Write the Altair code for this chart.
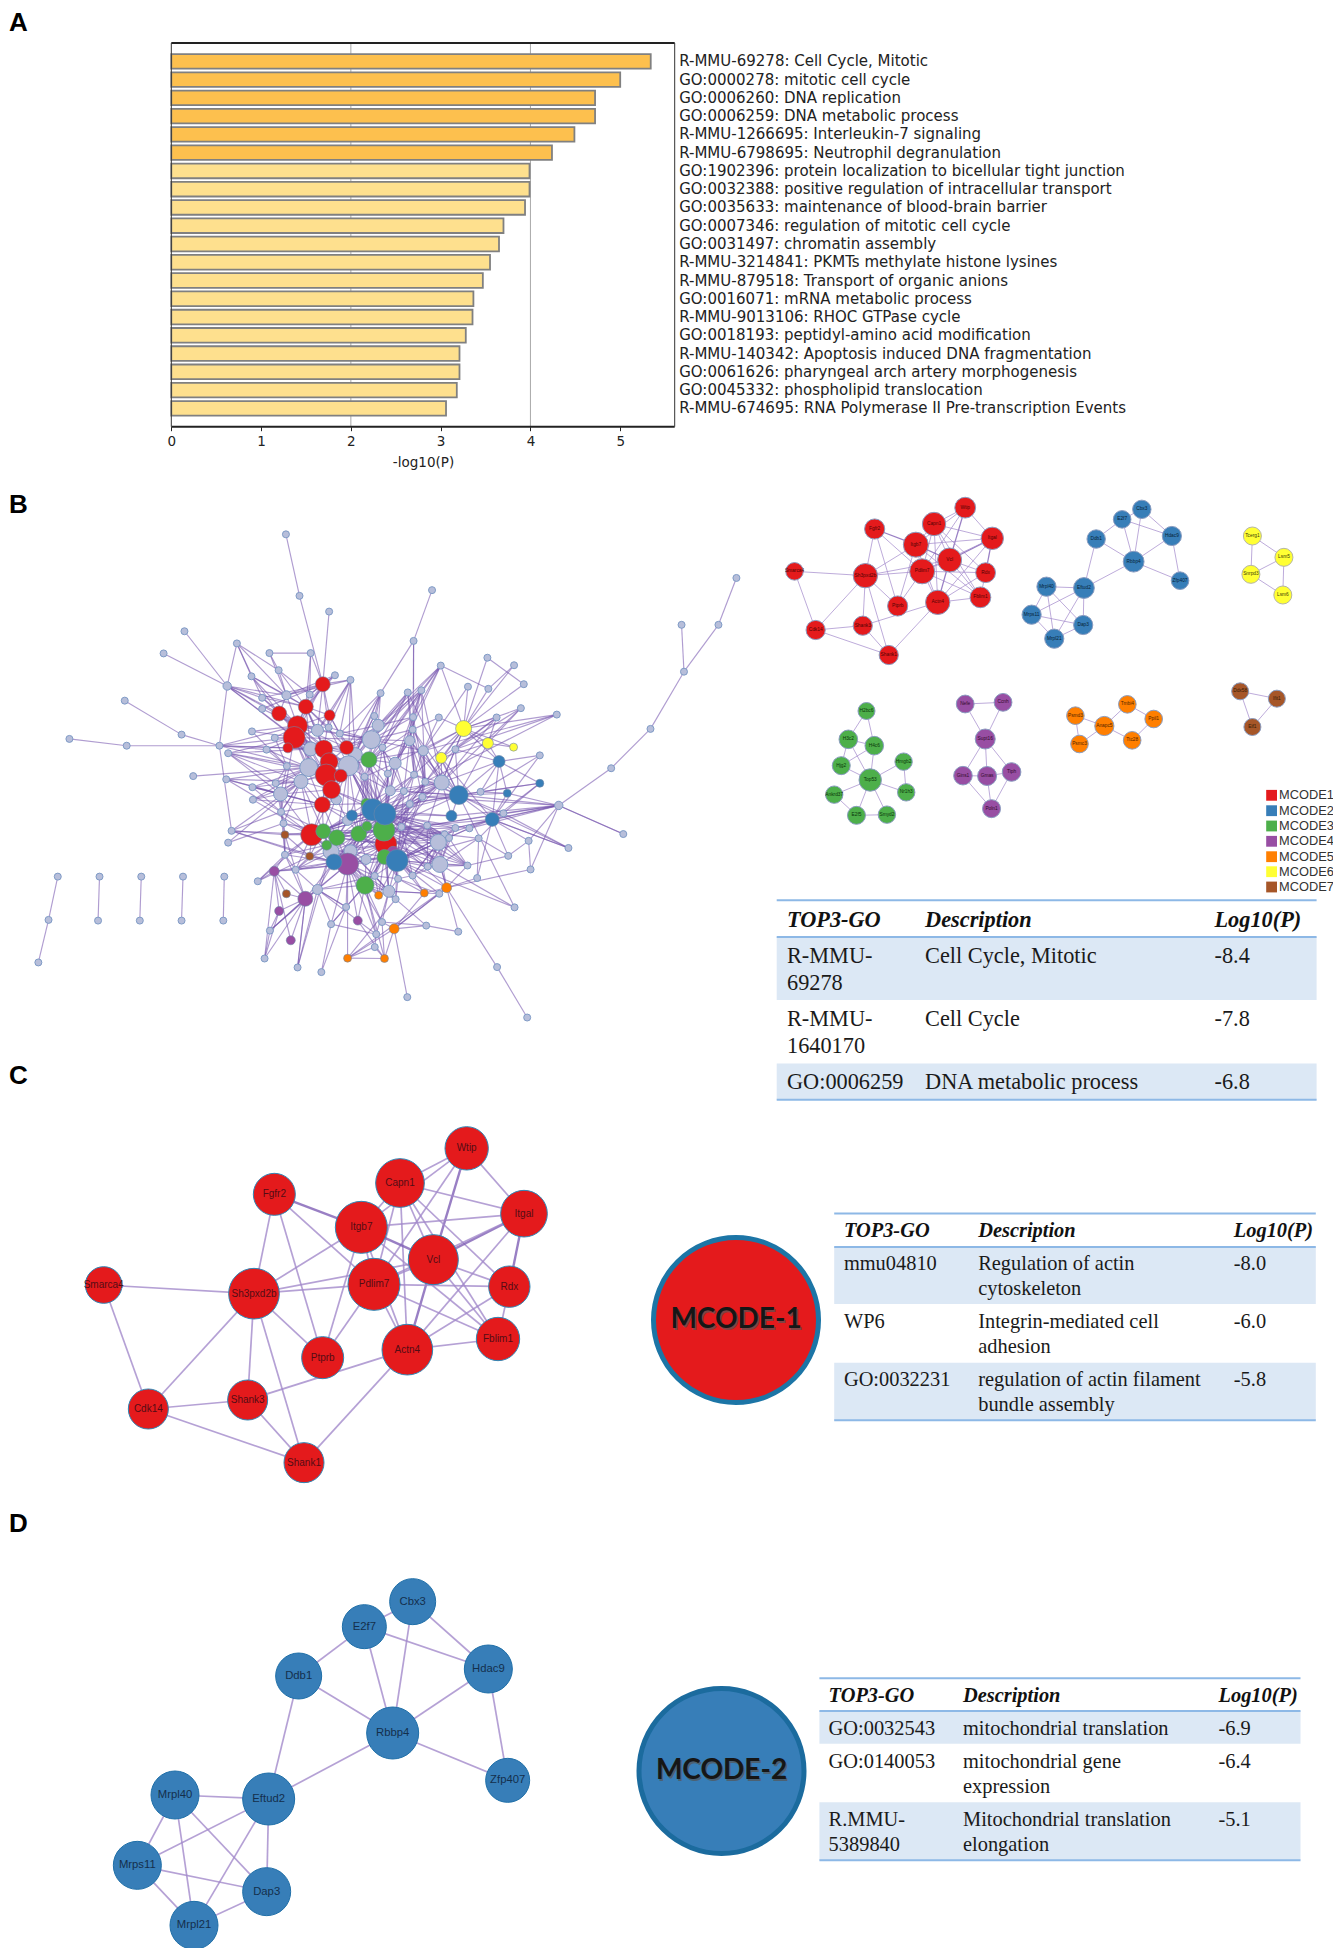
import altair as alt
import pandas as pd

W, H = 1325, 1940
SX = alt.Scale(domain=[8, 8 + W], range=[0, W], nice=False, zero=False)
SY = alt.Scale(domain=[8, 8 + H], range=[0, H], nice=False, zero=False)

# ---------- Panel A ----------
terms = ["R-MMU-69278: Cell Cycle, Mitotic", "GO:0000278: mitotic cell cycle", "GO:0006260: DNA replication",
         "GO:0006259: DNA metabolic process", "R-MMU-1266695: Interleukin-7 signaling",
         "R-MMU-6798695: Neutrophil degranulation", "GO:1902396: protein localization to bicellular tight junction",
         "GO:0032388: positive regulation of intracellular transport", "GO:0035633: maintenance of blood-brain barrier",
         "GO:0007346: regulation of mitotic cell cycle", "GO:0031497: chromatin assembly",
         "R-MMU-3214841: PKMTs methylate histone lysines", "R-MMU-879518: Transport of organic anions",
         "GO:0016071: mRNA metabolic process", "R-MMU-9013106: RHOC GTPase cycle",
         "GO:0018193: peptidyl-amino acid modification", "R-MMU-140342: Apoptosis induced DNA fragmentation",
         "GO:0061626: pharyngeal arch artery morphogenesis", "GO:0045332: phospholipid translocation",
         "R-MMU-674695: RNA Polymerase II Pre-transcription Events"]
logp = [5.34, 5.0, 4.72, 4.72, 4.49, 4.24, 3.99, 3.99, 3.94, 3.70, 3.65, 3.55, 3.47, 3.365, 3.355, 3.28, 3.21, 3.21, 3.18, 3.06]
bar_fill = ["#FDC04E"] * 6 + ["#FEE08E"] * 14
AL, AR, AT, AB = 171.3, 674.7, 43.0, 426.7
AXS = alt.Scale(domain=[0, 5.607], range=[AL - 8, AR - 8], nice=False, zero=False)
AYS = alt.Scale(domain=terms, range=[AT - 8, AB - 8], paddingInner=0.2, paddingOuter=0.605)
dfA = pd.DataFrame({"term": terms, "v": logp, "c": bar_fill})
xaxisA = alt.Axis(orient="bottom", offset=-(H - (AB - 8)), values=[0, 1, 2, 3, 4, 5], format="d", labelFlush=False,
                  grid=False, domain=False, tickColor="#222", tickSize=4, labelFont="DejaVu Sans", labelFontSize=13.5,
                  labelColor="#222", labelPadding=4, title="-log10(P)", titleFont="DejaVu Sans", titleFontSize=13.5,
                  titleFontWeight="normal", titleColor="#222", titlePadding=7)
gridA = alt.Chart(pd.DataFrame({"v": [2, 4]})).mark_rule(color="#a8a8a8", strokeWidth=1).encode(
    x=alt.X("v:Q", scale=AXS, axis=xaxisA), y=alt.value(AT - 8), y2=alt.value(AB - 8))
barsA = alt.Chart(dfA).mark_bar(stroke="#808080", strokeWidth=1.8).encode(
    x=alt.X("v:Q", scale=AXS, axis=xaxisA),
    y=alt.Y("term:N", sort=None, scale=AYS, axis=alt.Axis(orient="right", offset=-(W - (AR - 8)), title=None, domain=False,
            ticks=False, grid=False, labelFont="DejaVu Sans", labelFontSize=15, labelColor="#222", labelPadding=4, labelLimit=1000)),
    fill=alt.Fill("c:N", scale=None))
panelA = alt.layer(gridA, barsA)

# ---------- Colours ----------
RED, BLUE, GREEN, PURP, ORNG, YELL, BROW = "#E41A1C", "#377EB8", "#4DAF4A", "#984EA3", "#FF7F00", "#FFFF33", "#A65628"
GRAY = "#B7BEDA"

# ---------- Shared gene networks ----------
m1_names = ["Wtip", "Capn1", "Fgfr2", "Itgal", "Itgb7", "Vcl", "Pdlim7", "Sh3pxd2b", "Smarca4", "Rdx", "Fblim1", "Actn4", "Ptprb", "Shank3", "Cdk14", "Shank1"]
m1_big_x = [1280, 1080, 703, 1452, 964, 1180, 1002, 642, 191, 1408, 1374, 1102, 848, 623, 325, 792]
m1_big_y = [115, 219, 253, 311, 352, 449, 523, 551, 525, 530, 687, 719, 743, 870, 897, 1058]
m1_big_r = [65, 73, 63, 70, 78, 75, 78, 76, 55, 62, 65, 76, 63, 60, 60, 60]
m1_small_x = [553, 469, 309, 626, 420, 511, 437, 284, 93, 608, 594, 479, 371, 277, 150, 347]
m1_small_y = [83, 132, 147, 175, 194, 240, 274, 287, 274, 278, 352, 367, 378, 437, 450, 525]
m1_edges = ["Wtip-Capn1", "Wtip-Itgb7", "Wtip-Vcl*", "Wtip-Itgal", "Wtip-Pdlim7", "Capn1-Itgal", "Capn1-Itgb7", "Capn1-Vcl", "Capn1-Pdlim7",
            "Capn1-Actn4", "Capn1-Rdx", "Capn1-Fblim1", "Fgfr2-Itgb7*", "Fgfr2-Sh3pxd2b", "Fgfr2-Ptprb", "Fgfr2-Pdlim7", "Itgal-Itgb7", "Itgal-Vcl*",
            "Itgal-Rdx*", "Itgal-Actn4", "Itgal-Pdlim7", "Itgb7-Vcl*", "Itgb7-Pdlim7", "Itgb7-Sh3pxd2b", "Itgb7-Ptprb", "Itgb7-Actn4", "Itgb7-Fblim1",
            "Vcl-Pdlim7", "Vcl-Sh3pxd2b", "Vcl-Rdx", "Vcl-Fblim1", "Vcl-Actn4*", "Pdlim7-Sh3pxd2b", "Pdlim7-Rdx", "Pdlim7-Fblim1", "Pdlim7-Actn4",
            "Pdlim7-Ptprb", "Sh3pxd2b-Smarca4", "Sh3pxd2b-Ptprb", "Sh3pxd2b-Shank3", "Sh3pxd2b-Shank1", "Sh3pxd2b-Cdk14", "Smarca4-Cdk14",
            "Rdx-Fblim1", "Rdx-Actn4", "Fblim1-Actn4", "Actn4-Shank3", "Actn4-Shank1", "Shank3-Cdk14", "Shank3-Shank1", "Cdk14-Shank1"]

m2_names = ["Cbx3", "E2f7", "Ddb1", "Hdac9", "Rbbp4", "Zfp407", "Eftud2", "Mrpl40", "Mrps11", "Dap3", "Mrpl21"]
m2_big_x = [998, 853, 656, 1225, 938, 1283, 566, 285, 172, 560, 342]
m2_big_y = [125, 200, 348, 327, 519, 661, 717, 705, 916, 995, 1096]
m2_big_r = [69, 66, 69, 72, 78, 66, 78, 72, 72, 72, 72]
m2_small_x = [1029, 976, 906, 1110, 1007, 1132, 873, 772, 732, 871, 793]
m2_small_y = [88, 118, 177, 168, 245, 302, 324, 320, 404, 435, 476]
m2_edges = ["Cbx3-E2f7", "Cbx3-Hdac9", "Cbx3-Rbbp4", "E2f7-Ddb1", "E2f7-Hdac9", "E2f7-Rbbp4", "Ddb1-Rbbp4", "Ddb1-Eftud2", "Hdac9-Rbbp4",
            "Hdac9-Zfp407", "Rbbp4-Zfp407", "Rbbp4-Eftud2", "Eftud2-Mrpl40", "Eftud2-Mrps11", "Eftud2-Mrpl21", "Eftud2-Dap3", "Mrpl40-Mrps11",
            "Mrpl40-Mrpl21", "Mrpl40-Dap3", "Mrps11-Mrpl21", "Mrps11-Dap3", "Mrpl21-Dap3"]

m3_names = ["H2bc6", "H3c2", "H4c6", "Hjg2", "Hmgb2", "Top53", "Nr1h3", "Ankrd37", "E2f5", "Smyd2"]
m3_x = [287, 238, 308, 219, 387, 297, 394, 200, 260, 342]
m3_y = [693, 778, 797, 857, 845, 900, 937, 944, 1006, 1004]
m3_r = [8.5, 9.3, 9.3, 9, 8.7, 11.2, 8.7, 8.7, 9, 8.7]
m3_edges = ["H2bc6-H3c2", "H2bc6-H4c6", "H3c2-H4c6", "H3c2-Hjg2", "H3c2-Top53", "H4c6-Hjg2", "H4c6-Top53", "Hjg2-Top53", "Hmgb2-Top53",
            "Hmgb2-Nr1h3", "Nr1h3-Top53", "Top53-Ankrd37", "Top53-E2f5", "Top53-Smyd2", "Ankrd37-E2f5", "E2f5-Smyd2"]

m4_names = ["Nefe", "Ccnh", "Supt16", "Gins1", "Gmas", "Tiph", "Poln1"]
m4_x = [553, 655, 607, 547, 612, 678, 624]
m4_y = [672, 667, 777, 887, 888, 876, 986]
m4_r = [8.9, 8.9, 10, 9.3, 9.5, 9.3, 9]
m4_edges = ["Nefe-Ccnh", "Nefe-Supt16", "Ccnh-Supt16", "Supt16-Gins1", "Supt16-Gmas", "Supt16-Tiph", "Gins1-Gmas", "Gins1-Poln1", "Gmas-Tiph", "Gmas-Poln1", "Tiph-Poln1"]

m5_names = ["Psmd3", "Tmbi4", "Ppil1", "Anapc5", "Psmc3", "Ttc28"]
m5_x = [850, 990, 1061, 928, 861, 1003]
m5_y = [707, 673, 717, 738, 792, 781]
m5_r = [8.8, 8.8, 8.8, 9.6, 8.8, 8.8]
m5_edges = ["Psmd3-Anapc5", "Psmd3-Psmc3", "Psmc3-Anapc5", "Anapc5-Tmbi4", "Anapc5-Ttc28", "Tmbi4-Ppil1", "Ppil1-Ttc28"]

m6_names = ["Tcerg1", "Lsm5", "Snrpd3", "Lsm6"]
m6_x = [1327, 1412, 1323, 1409]
m6_y = [168, 232, 283, 345]
m6_r = [9, 9, 9, 9]
m6_edges = ["Tcerg1-Lsm5", "Tcerg1-Snrpd3", "Snrpd3-Lsm5", "Snrpd3-Lsm6", "Lsm5-Lsm6"]

m7_names = ["Ddx58", "Ifit1", "Eif1"]
m7_x = [1294, 1393, 1327]
m7_y = [634, 656, 741]
m7_r = [8.5, 8.5, 8.5]
m7_edges = ["Ddx58-Ifit1", "Ddx58-Eif1", "Ifit1-Eif1"]

# ---------- Overview network, read as (x,y) layout pairs ----------
small_gray = """589,96 617,268 678,312 380,367 337,429 488,401 555,428 640,428 852,394 890,252 1517,218 1404,349 1480,349 1409,480 1340,640 1259,750
1284,934 1171,973 1089,953 1093,1033 1060,1139 1047,995 1037,876 983,1057 1024,1306 1086,1447 944,1207 878,1190 839,1390 257,561 374,656 143,668 261,687 452,687
518,493 574,476 690,490 722,503 540,553 638,544 540,584 519,647 566,665 677,636 700,653 549,698 470,708 771,604 784,540 840,538 868,532 908,463 1004,441 1059,462
1079,515 1006,528 964,522 1073,582 1023,608 1147,600 904,608 851,607 850,642 938,697 788,692 591,744 398,772 466,781 665,775 751,774 799,765 853,768 568,792 520,803 521,838
832,814 876,788 990,816 870,830 844,850 579,872 584,904 880,910 938,917 967,918 916,935 925,945 986,946 477,925 470,958 587,992 827,914 963,1022 881,1025 850,1050 820,1059
772,1051 609,1034 531,1066 905,1101 815,1116 713,1138 682,1186 787,1180 775,1214 772,1250 556,1204 545,1282 613,1307 662,1320 119,1053 100,1174 79,1293 205,1053 202,1176
291,1053 288,1176 377,1053 374,1176 462,1053 460,1176 1112,714"""
big_gray = [(1151, 854, 4.2), (468, 520, 4.2), (590, 546, 4.5), (654, 644, 6), (640, 696, 7), (732, 712, 7), (765, 670, 9), (779, 630, 6), (844, 673, 5), (872, 701, 5),
            (814, 736, 6), (636, 748, 9), (718, 743, 10), (620, 787, 7), (578, 822, 7), (693, 838, 5), (804, 813, 5), (910, 790, 7.5), (716, 896, 5), (903, 957, 8),
            (682, 983, 8), (722, 982, 6.5), (754, 1005, 5), (906, 1019, 8), (654, 1089, 5), (801, 1094, 6)]
colored = [(RED, [(665, 515, 7.5), (630, 578, 7.5), (575, 597, 7.5), (679, 602, 5.5), (613, 631, 10), (606, 664, 11), (593, 693, 5), (667, 696, 9), (714, 692, 7), (678, 732, 9),
                  (672, 769, 11), (702, 771, 6.5), (683, 810, 9), (664, 852, 8), (642, 936, 11), (795, 962, 11)]),
           (PURP, [(810, 985, 6), (716, 1018, 11), (565, 1038, 5), (629, 1115, 7.5), (575, 1149, 4.5), (737, 1176, 4.5), (599, 1231, 4.5)]),
           (GREEN, [(760, 726, 8), (755, 849, 5.5), (666, 926, 7.5), (694, 944, 8), (739, 933, 8), (756, 912, 5), (791, 923, 11), (673, 965, 5), (792, 998, 7.5), (752, 1077, 9)]),
           (BLUE, [(945, 825, 9.5), (1028, 731, 6), (1112, 792, 4), (1045, 820, 4), (930, 883, 5.5), (1014, 893, 7), (725, 882, 5.5), (768, 866, 11), (793, 878, 11), (688, 1012, 8), (818, 1008, 11)]),
           (ORNG, [(920, 1084, 5), (874, 1099, 4), (780, 1105, 4), (812, 1199, 5), (716, 1281, 4), (792, 1282, 4)]),
           (YELL, [(955, 639, 8), (1005, 680, 5.5), (1058, 691, 4), (909, 721, 5.5)]),
           (BROW, [(587, 936, 4), (638, 996, 4), (590, 1101, 4)])]

overview_links = [
"589,96: 617,268", "617,268: 665,515", "678,312: 665,515", "380,367: 468,520", "337,429: 468,520", "488,401: 468,520 518,493 540,553 590,546 574,476",
"468,520: 452,687 540,553 590,546 630,578 613,631 575,597 606,664 640,696", "555,428: 640,428 574,476 590,546", "640,428: 638,544 630,578 665,515",
"890,252: 852,394", "852,394: 784,540 852,530 851,607", "1517,218: 1480,349", "1480,349: 1409,480", "1404,349: 1409,480", "1409,480: 1340,640", "1340,640: 1259,750", "1259,750: 1151,854",
"1151,854: 1284,934 1089,953 1093,1033 945,825 1014,893 1037,876 880,910 967,918 938,917 930,883 870,830 1045,820", "1089,953: 1093,1033", "1093,1033: 920,1084",
"257,561: 374,656", "374,656: 452,687", "143,668: 261,687", "261,687: 452,687", "452,687: 477,925 606,664 613,631 640,696 549,698 636,748 667,696",
"119,1053: 100,1174", "100,1174: 79,1293", "205,1053: 202,1176", "291,1053: 288,1176", "377,1053: 374,1176", "462,1053: 460,1176",
"665,515: 590,546 638,544 690,490 722,503 540,553 630,578 679,602 613,631 606,664 654,644 677,636 540,584",
"518,493: 590,546 613,631 575,597 630,578", "574,476: 590,546 630,578 638,544", "690,490: 638,544 630,578 590,546", "722,503: 654,644 679,602 677,636 700,653 732,712 590,546",
"613,631: 540,553 590,546 638,544 540,584 519,647 566,665 630,578 575,597 679,602 654,644 677,636 667,696 640,696 678,732 714,692 672,769 683,810 718,743 700,653 636,748",
"606,664: 519,647 566,665 549,698 470,708 640,696 654,644 667,696 678,732 672,769 636,748 683,810 664,852 718,743 765,670 579,872 693,838 732,712",
"630,578: 654,644 679,602 677,636 667,696 678,732 640,696 714,692 590,546 540,553", "575,597: 654,644 640,696 590,546 540,553 678,732",
"679,602: 654,644 667,696 714,692 700,653 677,636", "667,696: 678,732 672,769 714,692 640,696 654,644 683,810 718,743 732,712 765,670",
"678,732: 672,769 702,771 683,810 664,852 718,743 732,712 714,692 640,696 636,748", "672,769: 702,771 683,810 664,852 636,748 718,743 693,838 620,787",
"683,810: 664,852 693,838 702,771 755,849 768,866 716,896 620,787 578,822", "664,852: 642,936 666,926 694,944 716,896 693,838 579,872 578,822 620,787 755,849 725,882",
"636,748: 398,772 466,781 549,698 470,708 568,792 591,744 520,803 521,838 578,822 620,787 718,743 693,838 640,696", "470,708: 591,744 568,792 578,822 640,696 620,787", 
"466,781: 578,822 620,787 664,852 579,872", "520,803: 578,822 620,787 579,872 664,852", "521,838: 578,822 620,787 664,852 642,936", "477,925: 587,936 642,936 579,872 620,787 638,996 688,1012", "470,958: 584,904 620,787",
"578,822: 591,744 568,792 579,872 584,904 620,787 642,936", "620,787: 591,744 640,696 579,872 584,904 642,936 666,926 568,792", "591,744: 566,665 549,698 568,792 519,647",
"718,743: 779,630 771,604 784,540 732,712 760,726 751,774 755,849 768,866 793,878 716,896 642,936 666,926 694,944 739,933 791,923 620,787 664,852 795,962 765,670 722,503 677,636",
"765,670: 840,538 868,532 784,540 851,607 850,642 908,463 844,673 872,701 814,736 714,692 732,712 760,726 788,692 700,653 677,636 654,644",
"760,726: 732,712 714,692 814,736 788,692 799,765 751,774 791,923 768,866 793,878 755,849 844,673 872,701 850,642 804,813", "732,712: 714,692 700,653 751,774 755,849 768,866 793,878 804,813 771,604",
"779,630: 840,538 868,532 908,463 851,607 771,604 784,540 700,653 714,692 760,726", "784,540: 714,692 732,712 771,604 700,653", "840,538: 788,692 760,726 850,642 945,825 853,768", "868,532: 851,607 788,692 814,736 844,673 876,788 910,790", 
"908,463: 1006,528 788,692 851,607 814,736 760,726", "1004,441: 1079,515 955,639", "1059,462: 1006,528 955,639", "1079,515: 955,639", "1006,528: 955,639", "964,522: 955,639 872,701",
"955,639: 908,463 1073,582 1023,608 1147,600 1005,680 1058,691 909,721 938,697 872,701 904,608 814,736 1028,731 853,768 910,790 844,850", "1005,680: 1058,691 909,721 1023,608 1073,582 1028,731 945,825",
"1147,600: 938,697 872,701 876,788", "1023,608: 909,721 938,697 910,790", "1073,582: 938,697 910,790", "904,608: 872,701 850,642", "851,607: 844,673 876,788 853,768 804,813", "850,642: 876,788 910,790 814,736 945,825", 
"844,673: 814,736 799,765 832,814 870,830 910,790 853,768 945,825 876,788", "872,701: 910,790 876,788 853,768 870,830", "938,697: 910,790 1028,731 945,825 876,788", "909,721: 910,790 945,825 1014,893", 
"1028,731: 1112,792 945,825 1014,893 1045,820 990,816 910,790 1112,714", "1112,714: 990,816 1014,893", "1112,792: 945,825 1014,893 990,816 1037,876", "1045,820: 945,825 1014,893 990,816",
"945,825: 1014,893 930,883 990,816 876,788 910,790 870,830 844,850 793,878 768,866 791,923 853,768 1037,876 804,813 832,814 1060,1139",
"1014,893: 1047,995 983,1057 1171,973 1037,876 938,917 967,918 916,935 1089,953 880,910", "1037,876: 1171,973 986,946 880,910", "910,790: 876,788 853,768 804,813 832,814 870,830 844,850 793,878 768,866 827,914 880,910 791,923 930,883",
"814,736: 799,765 751,774 804,813 832,814 853,768 768,866 793,878", "788,692: 751,774 804,813 799,765 832,814 768,866", "853,768: 793,878 768,866 804,813 827,914 791,923", "876,788: 844,850 793,878 791,923 870,830 818,1008",
"804,813: 768,866 793,878 755,849 791,923 751,774", "832,814: 793,878 768,866 791,923 818,1008", "751,774: 768,866 793,878 755,849 791,923 739,933 716,896", "799,765: 793,878 768,866 791,923 795,962", 
"870,830: 793,878 791,923 795,962 818,1008", "844,850: 793,878 791,923 795,962 818,1008 827,914",
"768,866: 793,878 755,849 725,882 716,896 791,923 739,933 756,912 694,944 666,926 642,936 795,962 818,1008 716,1018 688,1012 722,982 792,998 880,910 903,957 906,1019 827,914 916,935 930,883",
"793,878: 791,923 756,912 739,933 725,882 716,896 694,944 666,926 642,936 795,962 818,1008 716,1018 688,1012 722,982 792,998 880,910 903,957 906,1019 827,914 925,945 938,917 967,918 930,883",
"791,923: 756,912 739,933 694,944 666,926 642,936 795,962 818,1008 716,1018 688,1012 722,982 682,983 792,998 880,910 903,957 906,1019 827,914 916,935 925,945 938,917 963,1022 881,1025 850,1050 820,1059 772,1051 752,1077 801,1094 920,1084",
"795,962: 739,933 756,912 694,944 666,926 642,936 818,1008 716,1018 688,1012 722,982 682,983 792,998 880,910 903,957 906,1019 916,935 925,945 938,917 963,1022 881,1025 850,1050 820,1059 772,1051 752,1077 801,1094 754,1005",
"818,1008: 880,910 903,957 906,1019 916,935 925,945 938,917 967,918 986,946 963,1022 881,1025 850,1050 820,1059 772,1051 905,1101 920,1084 874,1099 815,1116 801,1094 780,1105 754,1005 792,998 716,1018 739,933 827,914",
"827,914: 880,910 903,957 906,1019 916,935 925,945 850,1050 963,1022", "880,910: 903,957 906,1019 938,917 916,935 925,945 963,1022 881,1025", "903,957: 906,1019 963,1022 938,917 967,918 916,935 881,1025 850,1050", "906,1019: 963,1022 916,935 925,945 938,917 881,1025 850,1050 920,1084 986,946",
"881,1025: 850,1050 963,1022 916,935 925,945", "850,1050: 903,957 874,1099 820,1059", "963,1022: 1047,995 925,945", "986,946: 1047,995 983,1057 916,935", "983,1057: 920,1084",
"716,1018: 642,936 666,926 694,944 739,933 756,912 673,965 682,983 722,982 688,1012 754,1005 792,998 752,1077 772,1051 801,1094 815,1116 780,1105 713,1138 654,1089 629,1115 609,1034 565,1038 682,1186 716,1281 737,1176 787,1180 775,1214 638,996",
"688,1012: 642,936 666,926 694,944 673,965 682,983 609,1034 638,996 654,1089 629,1115 739,933 756,912 565,1038 587,992", "694,944: 642,936 666,926 739,933 673,965 682,983 722,982 756,912 716,896 725,882", "739,933: 666,926 756,912 716,896 725,882 722,982 682,983 754,1005 792,998 755,849",
"642,936: 666,926 673,965 587,936 584,904 579,872 638,996 587,992 609,1034 682,983 716,896", "666,926: 673,965 716,896 725,882 682,983 755,849", "673,965: 587,992 638,996 682,983 609,1034", "682,983: 609,1034 638,996 722,982 654,1089 752,1077", "722,982: 754,1005 752,1077 772,1051 792,998 801,1094",
"752,1077: 772,1051 754,1005 801,1094 792,998 815,1116 780,1105 792,1282 713,1138 787,1180 775,1214 654,1089", "792,998: 772,1051 801,1094 752,1077 820,1059 780,1105 754,1005", "772,1051: 780,1105 801,1094 815,1116 820,1059", "820,1059: 801,1094 815,1116 905,1101 874,1099", "801,1094: 874,1099 815,1116 905,1101 787,1180 775,1214",
"920,1084: 906,1019 1024,1306 944,1207 905,1101 874,1099 903,957 963,1022", "1024,1306: 1086,1447", "878,1190: 944,1207 812,1199 787,1180 815,1116", "812,1199: 920,1084 716,1281 792,1282 905,1101 839,1390 787,1180 874,1099", "716,1281: 792,1282 920,1084 772,1250 815,1116",
"775,1214: 682,1186 772,1250 737,1176", "792,1282: 772,1250 737,1176 787,1180", "713,1138: 662,1320 682,1186 654,1089", "682,1186: 662,1320 654,1089 752,1077", "737,1176: 654,1089 752,1077",
"629,1115: 565,1038 575,1149 599,1231 556,1204 613,1307 545,1282 654,1089 590,1101 609,1034 587,992", "565,1038: 590,1101 575,1149 599,1231 545,1282 609,1034 531,1066 587,992", "545,1282: 556,1204 575,1149", "556,1204: 629,1115 654,1089 575,1149", "531,1066: 587,992 638,996 642,936",
"613,1307: 654,1089 629,1115 682,983", "609,1034: 587,992 654,1089 638,996", "587,992: 584,904 579,872 587,936", "584,904: 579,872 587,936", "579,872: 568,792 620,787", "587,936: 638,996 609,1034 666,926", "654,1089: 772,1051 713,1138",
"1047,995: 1089,953", "1060,1139: 906,1019 818,1008", "1171,973: 945,825 1014,893", "1284,934: 1151,854", "666,926: 579,872 584,904 638,996",
]

# ---------- Legend and tables ----------
legend_names = ["MCODE1", "MCODE2", "MCODE3", "MCODE4", "MCODE5", "MCODE6", "MCODE7"]
legend_cols = [RED, BLUE, GREEN, PURP, ORNG, YELL, BROW]
legend_y = [795.3, 810.7, 826, 841.3, 856.7, 871.7, 887]
headers = ["TOP3-GO", "Description", "Log10(P)"]
tables = [
    dict(x0=776.7, x1=1316.6, cols=[787, 925.1, 1214.5], fs=22.3, head=920, top=900.3, lines=[936.9, 1000, 1063.4, 1099.7], shaded=[0, 2],
         rows=[[("R-MMU-", 956.2), ("69278", 983.1), "Cell Cycle, Mitotic", "-8.4"], [("R-MMU-", 1019.3), ("1640170", 1045.9), "Cell Cycle", "-7.8"], [("GO:0006259", 1082.4), None, "DNA metabolic process", "-6.8"]],
         descy=[956.2, 1019.3, 1082.4]),
    dict(x0=834.2, x1=1315.8, cols=[843.9, 978.2, 1233.8], fs=20.4, head=1231.4, top=1213.4, lines=[1246.9, 1304.1, 1362.8, 1420.3], shaded=[0, 2],
         rows=[[("mmu04810", 1264.1), None, [("Regulation of actin", 1264.1), ("cytoskeleton", 1289.3)], "-8.0"],
               [("WP6", 1322), None, [("Integrin-mediated cell", 1322), ("adhesion", 1347.2)], "-6.0"],
               [("GO:0032231", 1380), None, [("regulation of actin filament", 1380), ("bundle assembly", 1404.8)], "-5.8"]],
         descy=[1264.1, 1322, 1380]),
    dict(x0=819.4, x1=1300.5, cols=[828.6, 963, 1218.5], fs=20.4, head=1696, top=1678.3, lines=[1711, 1743.7, 1802.3, 1860.3], shaded=[0, 2],
         rows=[[("GO:0032543", 1729), None, "mitochondrial translation", "-6.9"],
               [("GO:0140053", 1761.7), None, [("mitochondrial gene", 1761.7), ("expression", 1787.3)], "-6.4"],
               [("R.MMU-", 1820), ("5389840", 1845), [("Mitochondrial translation", 1820), ("elongation", 1845)], "-5.1"]],
         descy=[1729, 1761.7, 1820]),
]

# ---------- Assemble tables of marks ----------
segs, nodes, labels = [], [], []
OVX, OVY = 2.06, 2.796


def seg(x, y, x2, y2, c, w, o=1.0):
    segs.append(dict(x=x, y=y, x2=x2, y2=y2, c=c, w=w, o=o))


def node(x, y, r, f, st, sw=1.0):
    nodes.append(dict(x=x, y=y, s=4 * r * r, f=f, st=st, sw=sw))


def network(names, xs, ys, rs, edges, ox, oy, fx, fy, fill, stroke, fs, w, lab):
    pos = {n: (ox + a / fx, oy + b / fy) for n, a, b in zip(names, xs, ys)}
    for e in edges:
        thick = e.endswith("*")
        a, b = e.rstrip("*").split("-")
        seg(pos[a][0], pos[a][1], pos[b][0], pos[b][1], "#7F5FB5" if thick else "#A38ACB", w * (1.4 if thick else 1), 0.8)
    for n, r in zip(names, rs):
        node(pos[n][0], pos[n][1], r, fill, stroke)
        labels.append(dict(x=pos[n][0], y=pos[n][1], t=n, fs=fs, c=lab))


# frame of panel A
frame = [dict(x=AL, y=AT, x2=AR, y2=AT, c="#222", w=2, o=1), dict(x=AL, y=AB, x2=AR, y2=AB, c="#222", w=2, o=1),
         dict(x=AL, y=AT, x2=AL, y2=AB, c="#333", w=1, o=1), dict(x=AR, y=AT, x2=AR, y2=AB, c="#333", w=1, o=1)]

# overview network
for line in overview_links:
    h, ts = line.split(": ")
    hx, hy = map(float, h.split(","))
    for t in ts.split():
        tx, ty = map(float, t.split(","))
        seg(hx / OVX, 500 + hy / OVY, tx / OVX, 500 + ty / OVY, "#7555AE", 1.15, 0.58)
for p in small_gray.split():
    a, b = map(float, p.split(","))
    node(a / OVX, 500 + b / OVY, 3.5, GRAY, "#7F9BC6")
for a, b, r in big_gray:
    node(a / OVX, 500 + b / OVY, r, GRAY, "#7F9BC6")
for col, pts in colored:
    for a, b, r in pts:
        node(a / OVX, 500 + b / OVY, r, col, "#6F86A8", 0.6)

# MCODE sub-networks, top right
S = (760, 480, 2.695, 3)
network(m1_names, m1_small_x, m1_small_y, [r / 3 * 0.48 for r in m1_big_r], m1_edges, *S, RED, "#8a9cc0", 4.8, 0.9, "#300")
network(m2_names, m2_small_x, m2_small_y, [r / 3 * 0.4 for r in m2_big_r], m2_edges, *S, BLUE, "#8a9cc0", 4.8, 0.9, "#012")
network(m3_names, m3_x, m3_y, m3_r, m3_edges, *S, GREEN, "#8a9cc0", 4.8, 0.9, "#020")
network(m4_names, m4_x, m4_y, m4_r, m4_edges, *S, PURP, "#8a9cc0", 4.8, 0.9, "#201")
network(m5_names, m5_x, m5_y, m5_r, m5_edges, *S, ORNG, "#8a9cc0", 4.8, 0.9, "#310")
network(m6_names, m6_x, m6_y, m6_r, m6_edges, *S, YELL, "#b5b5a5", 4.8, 0.9, "#110")
network(m7_names, m7_x, m7_y, m7_r, m7_edges, *S, BROW, "#8a9cc0", 4.8, 0.9, "#210")
# large MCODE-1 and MCODE-2
network(m1_names, m1_big_x, m1_big_y, [r / 3 for r in m1_big_r], m1_edges, 40, 1110, 3, 3, RED, "#2F86B5", 10, 1.7, "#3a0a14")
network(m2_names, m2_big_x, m2_big_y, [r / 3 for r in m2_big_r], m2_edges, 80, 1560, 3, 3, BLUE, "#1F6FA8", 11.3, 1.7, "#0f2238")

# table contents
rects, body, heads = [], [], []
for t in tables:
    seg(t["x0"], t["top"], t["x1"], t["top"], "#8DB8E6", 2)
    for h, cx in zip(headers, t["cols"]):
        heads.append(dict(x=cx, y=t["head"], t=h, fs=t["fs"]))
    edges_y = t["lines"]
    for i in t["shaded"]:
        rects.append(dict(x=t["x0"], x2=t["x1"], y=edges_y[i], y2=edges_y[i + 1]))
    seg(t["x0"], edges_y[0], t["x1"], edges_y[0], "#8DB8E6", 2)
    seg(t["x0"], edges_y[3], t["x1"], edges_y[3], "#8DB8E6", 2)
    for r, dy in zip(t["rows"], t["descy"]):
        for part in r[:2]:
            if part:
                body.append(dict(x=t["cols"][0], y=part[1], t=part[0], fs=t["fs"]))
        d = r[2] if isinstance(r[2], list) else [(r[2], dy)]
        for txt, yy in d:
            body.append(dict(x=t["cols"][1], y=yy, t=txt, fs=t["fs"]))
        body.append(dict(x=t["cols"][2], y=dy, t=r[3], fs=t["fs"]))

big = [dict(x=736, y=1320, s=4 * 82.5 ** 2, f=RED, st="#1C75A6", sw=5), dict(x=721.5, y=1771, s=4 * 82.5 ** 2, f=BLUE, st="#1B6B9E", sw=5)]
big_labels = [dict(x=736, y=1320, t="MCODE-1"), dict(x=721.5, y=1771, t="MCODE-2")]
letters = [dict(x=9, y=23, t="A"), dict(x=9, y=505, t="B"), dict(x=9, y=1076, t="C"), dict(x=9, y=1524, t="D")]
legend = pd.DataFrame({"x": [1271.6] * 7, "y": legend_y, "f": legend_cols, "t": legend_names})

# ---------- Layers ----------
X = alt.X("x:Q", scale=SX, axis=None)
Y = alt.Y("y:Q", scale=SY, axis=None)


def rules(rows):
    return alt.Chart(pd.DataFrame(rows)).mark_rule().encode(
        x=X, y=Y, x2="x2:Q", y2="y2:Q", color=alt.Color("c:N", scale=None),
        strokeWidth=alt.StrokeWidth("w:Q", scale=None), opacity=alt.Opacity("o:Q", scale=None))


def circles(rows):
    return alt.Chart(pd.DataFrame(rows)).mark_circle(opacity=1).encode(
        x=X, y=Y, size=alt.Size("s:Q", scale=None), fill=alt.Fill("f:N", scale=None),
        stroke=alt.Stroke("st:N", scale=None), strokeWidth=alt.StrokeWidth("sw:Q", scale=None))


def texts(rows, **kw):
    return alt.Chart(pd.DataFrame(rows)).mark_text(baseline="middle", **kw).encode(x=X, y=Y, text="t:N")


pixel = alt.layer(
    alt.Chart(pd.DataFrame(rects)).mark_rect(fill="#DCE8F5").encode(x=X, x2="x2:Q", y=Y, y2="y2:Q"),
    rules(segs),
    circles(nodes),
    alt.Chart(pd.DataFrame(labels)).mark_text(baseline="middle", font="Liberation Sans", opacity=0.85).encode(
        x=X, y=Y, text="t:N", size=alt.Size("fs:Q", scale=None), color=alt.Color("c:N", scale=None)),
    circles(big),
    texts(big_labels, font="Lato", fontWeight="bold", fontSize=28, color="#555", dx=1.5, dy=2, opacity=0.7),
    texts(big_labels, font="Lato", fontWeight="bold", fontSize=28, color="#161616"),
    texts(letters, font="Liberation Sans", fontWeight="bold", fontSize=26, color="#000", align="left"),
    alt.Chart(legend).mark_square(size=117, opacity=1).encode(x=X, y=Y, fill=alt.Fill("f:N", scale=None)),
    alt.Chart(legend).mark_text(align="left", baseline="middle", font="Liberation Sans", fontSize=12.8, color="#333", dx=7.5).encode(x=X, y=Y, text="t:N"),
    alt.Chart(pd.DataFrame(body)).mark_text(align="left", baseline="middle", font="Liberation Serif", color="#1a1a1a").encode(
        x=X, y=Y, text="t:N", size=alt.Size("fs:Q", scale=None)),
    alt.Chart(pd.DataFrame(heads)).mark_text(align="left", baseline="middle", font="Liberation Serif", fontStyle="italic", fontWeight="bold", color="#111").encode(
        x=X, y=Y, text="t:N", size=alt.Size("fs:Q", scale=None)),
    rules(frame),
)

chart = alt.layer(panelA, pixel).resolve_scale(x="independent", y="independent").properties(
    width=W, height=H, padding=0, background="white", autosize=alt.AutoSizeParams(type="none")
).configure_view(stroke=None)

chart.save("out.html", embed_options={"renderer": "svg", "actions": False})
